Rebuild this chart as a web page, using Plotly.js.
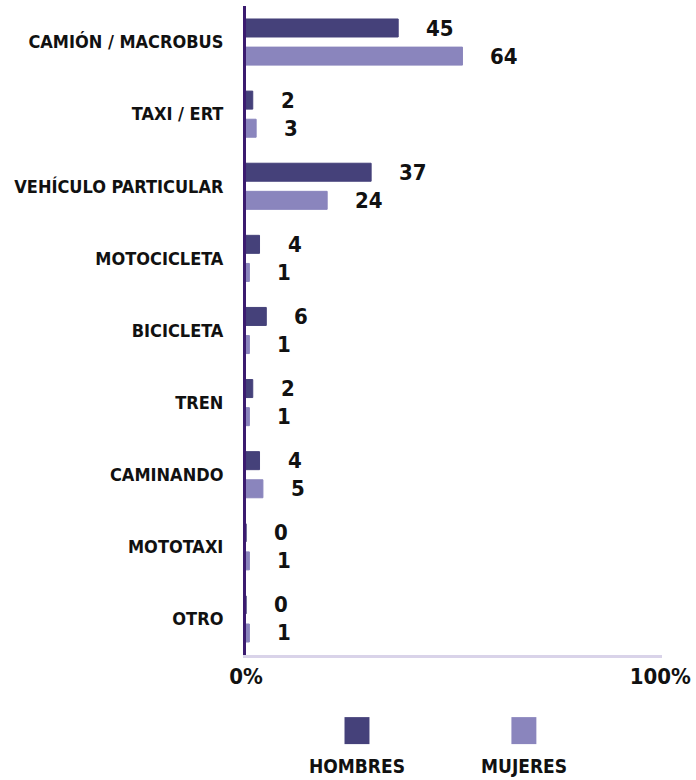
<!DOCTYPE html>
<html>
<head>
<meta charset="utf-8">
<script src="https://cdn.plot.ly/plotly-3.0.1.min.js"></script>
<style>html,body{margin:0;padding:0;background:#fff;}#chart{width:696px;height:780px;}</style>
</head>
<body>
<div id="chart"></div>
<script>
const categories = ['CAMIÓN / MACROBUS','TAXI / ERT','VEHÍCULO PARTICULAR','MOTOCICLETA','BICICLETA','TREN','CAMINANDO','MOTOTAXI','OTRO'];
const hombres = [45, 2, 37, 4, 6, 2, 4, 0, 0];
const mujeres = [64, 3, 24, 1, 1, 1, 5, 1, 1];
const seriesNames = ['HOMBRES', 'MUJERES'];
const xTickLabels = ['0%', '100%'];
const xTickValues = [0, 122.5];

const FONT = '"DejaVu Sans Condensed", "Liberation Sans Narrow", sans-serif';
const colors = ['#45417a', '#8a85bd'];
const series = [hombres, mujeres];

const traces = series.map((vals, i) => ({
  type: 'bar',
  orientation: 'h',
  name: seriesNames[i],
  y: categories,
  x: vals,
  marker: {color: colors[i], line: {color: colors[i], width: 1}},
  hoverinfo: 'x+y+name'
}));

const annotations = [];
series.forEach((vals, i) => {
  vals.forEach((v, j) => {
    annotations.push({
      x: v, y: categories[j], xref: 'x', yref: 'y',
      text: String(v), showarrow: false,
      xanchor: 'left', yanchor: 'middle',
      xshift: 26, yshift: i === 0 ? 14 : -14,
      font: {family: FONT, size: 22, color: '#111', weight: 700}
    });
  });
});

const legendX = [0.2668, 0.668];
const shapes = [];
seriesNames.forEach((n, i) => {
  shapes.push({
    type: 'rect', xref: 'paper', yref: 'paper',
    x0: legendX[i] - 0.030, x1: legendX[i] + 0.030,
    y0: -0.0957, y1: -0.1373,
    fillcolor: colors[i], line: {width: 0}
  });
  annotations.push({
    x: legendX[i], y: -0.1713, xref: 'paper', yref: 'paper',
    text: n, showarrow: false, xanchor: 'center', yanchor: 'middle',
    font: {family: FONT, size: 19, color: '#111', weight: 700}
  });
});

const layout = {
  width: 696, height: 780,
  margin: {l: 246, r: 34, t: 6, b: 125},
  paper_bgcolor: '#fff', plot_bgcolor: '#fff',
  barmode: 'group', bargap: 0.22, bargroupgap: 0.36,
  showlegend: false,
  xaxis: {
    range: [0, 123], tickvals: xTickValues, ticktext: xTickLabels,
    showgrid: false, zeroline: false, showline: true,
    linecolor: '#d9d3e9', linewidth: 3, ticks: '',
    tickfont: {family: FONT, size: 22, color: '#111', weight: 700}
  },
  yaxis: {
    type: 'category', autorange: 'reversed',
    showgrid: false, zeroline: false, showline: true,
    linecolor: '#3b1b6f', linewidth: 3,
    ticks: 'outside', ticklen: 16, tickcolor: 'rgba(0,0,0,0)',
    tickfont: {family: FONT, size: 18, color: '#111', weight: 700}
  },
  annotations: annotations,
  shapes: shapes
};

Plotly.newPlot('chart', traces, layout, {displayModeBar: false, responsive: false});
</script>
</body>
</html>
